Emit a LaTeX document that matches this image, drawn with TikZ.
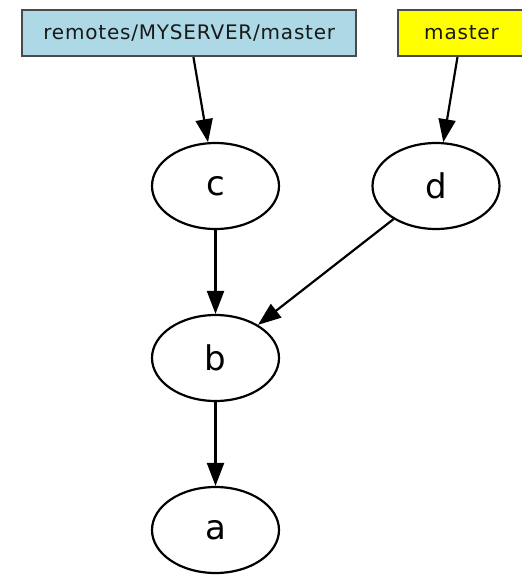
\documentclass[tikz,border=0pt]{standalone}
\usepackage{fontspec}
\setmainfont{DejaVu Sans}
\usetikzlibrary{arrows.meta,shapes.geometric}

\definecolor{refbox}{HTML}{ADD8E6}
\definecolor{headbox}{HTML}{FFFF00}
\definecolor{boxline}{HTML}{4A4A4A}

\tikzset{
  refnode/.style={draw=boxline, line width=2.2pt, rectangle, inner sep=0pt,
    minimum height=46pt, text=black!90,
    font={\fontsize{20pt}{23pt}\selectfont\addfontfeature{LetterSpace=4}}},
  commit/.style={draw=black, line width=2.2pt, ellipse, inner sep=0pt,
    minimum width=127pt, minimum height=86pt, text=black,
    font={\fontsize{34pt}{38pt}\selectfont}},
  edge/.style={draw=black, line width=2.2pt,
    -{Triangle[length=23pt,width=17pt]}}
}

\begin{document}
\begin{tikzpicture}[x=1pt,y=1pt]
  \clip (0,0) rectangle (522,-576);
  \fill[white] (0,0) rectangle (522,-576);

  % branch labels
  \node[refnode, fill=refbox, minimum width=334pt] (rm) at (189.3,-33) {remotes/MYSERVER/master};
  \node[refnode, fill=headbox, minimum width=127pt] (ms) at (461.5,-33) {master};

  % commits
  \node[commit] (c) at (215.5,-186) {c};
  \node[commit] (d) at (436,-186) {d};
  \node[commit] (b) at (215.5,-358) {b};
  \node[commit] (a) at (215.5,-530) {a};

  % references and parent links
  \draw[edge] (rm) -- (c);
  \draw[edge] (ms) -- (d);
  \draw[edge] (c) -- (b);
  \draw[edge] (d) -- (b);
  \draw[edge] (b) -- (a);
\end{tikzpicture}
\end{document}
